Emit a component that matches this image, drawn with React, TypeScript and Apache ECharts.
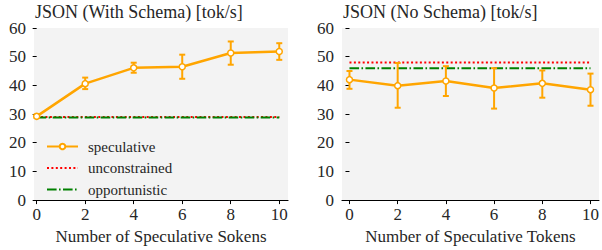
import React, { useEffect, useRef } from "react";
import * as echarts from "echarts";

const xTicks = [0, 2, 4, 6, 8, 10];
const yTicks = [0, 10, 20, 30, 40, 50, 60];

// Left panel: JSON (With Schema)
const leftSpecX = [0, 2, 4, 6, 8, 10];
const leftSpecY = [29.2, 40.6, 46.1, 46.5, 51.3, 51.8];
const leftSpecLo = [28.6, 38.7, 44.4, 42.3, 47.2, 48.9];
const leftSpecHi = [29.8, 42.7, 47.9, 50.7, 55.3, 54.7];
const leftUnconstrained = 29.0;
const leftOpportunistic = 28.8;

// Right panel: JSON (No Schema)
const rightSpecX = [0, 2, 4, 6, 8, 10];
const rightSpecY = [42.0, 39.9, 41.5, 39.1, 40.7, 38.5];
const rightSpecLo = [38.8, 32.2, 36.3, 31.9, 35.7, 32.9];
const rightSpecHi = [45.0, 47.8, 46.7, 46.0, 45.2, 44.1];
const rightUnconstrained = 48.0;
const rightOpportunistic = 46.0;

const titles = ["JSON (With Schema) [tok/s]", "JSON (No Schema) [tok/s]"];
const xNames = ["Number of Speculative Sokens", "Number of Speculative Tokens"];
const legendNames = ["speculative", "unconstrained", "opportunistic"];

const ORANGE = "#FFA500";
const RED = "#FF0000";
const GREEN = "#008000";
const FONT = "Liberation Serif";
const TXT = "#262626";

const css = `#chart-root svg text, #chart-root svg tspan { font-family: "Liberation Serif", "DejaVu Serif", serif !important; }`;

export default function App() {
  const ref = useRef<HTMLDivElement>(null);
  useEffect(() => {
    document.body.style.margin = "0";
    const chart = echarts.init(ref.current!, undefined, { renderer: "svg" });

    const grids = [
      { left: 34, top: 28, width: 254, height: 180 },
      { left: 342, top: 28, width: 259, height: 180 },
    ];
    const xRanges = [
      [-0.11, 10.36],
      [-0.31, 10.35],
    ];

    const errRender = (params: any, api: any) => {
      const x = api.value(0);
      const lo = api.value(1);
      const hi = api.value(2);
      const pLo = api.coord([x, lo]);
      const pHi = api.coord([x, hi]);
      const w = 3;
      const st = { stroke: ORANGE, lineWidth: 2 };
      return {
        type: "group",
        children: [
          { type: "line", shape: { x1: pLo[0], y1: pLo[1], x2: pHi[0], y2: pHi[1] }, style: st },
          { type: "line", shape: { x1: pLo[0] - w, y1: pLo[1], x2: pLo[0] + w, y2: pLo[1] }, style: st },
          { type: "line", shape: { x1: pHi[0] - w, y1: pHi[1], x2: pHi[0] + w, y2: pHi[1] }, style: st },
        ],
      };
    };

    const panels = [
      { x: leftSpecX, y: leftSpecY, lo: leftSpecLo, hi: leftSpecHi, u: leftUnconstrained, o: leftOpportunistic },
      { x: rightSpecX, y: rightSpecY, lo: rightSpecLo, hi: rightSpecHi, u: rightUnconstrained, o: rightOpportunistic },
    ];

    const series: any[] = [];
    panels.forEach((p, i) => {
      series.push({
        name: legendNames[1],
        type: "line",
        xAxisIndex: i,
        yAxisIndex: i,
        data: [[0, p.u], [10, p.u]],
        symbol: "none",
        lineStyle: { color: RED, width: 2, type: [2, 2.4] },
        itemStyle: { color: RED },
        z: 2,
      });
      series.push({
        name: legendNames[2],
        type: "line",
        xAxisIndex: i,
        yAxisIndex: i,
        data: [[0, p.o], [10, p.o]],
        symbol: "none",
        lineStyle: { color: GREEN, width: 2, type: [9.6, 2.4, 1.6, 2.4] },
        itemStyle: { color: GREEN },
        z: 3,
      });
      series.push({
        name: "err" + i,
        type: "custom",
        xAxisIndex: i,
        yAxisIndex: i,
        renderItem: errRender,
        data: p.x.map((xv, k) => [xv, p.lo[k], p.hi[k]]),
        z: 4,
      });
      series.push({
        name: legendNames[0],
        type: "line",
        xAxisIndex: i,
        yAxisIndex: i,
        data: p.x.map((xv, k) => [xv, p.y[k]]),
        symbol: "circle",
        symbolSize: 6,
        lineStyle: { color: ORANGE, width: 2.5 },
        itemStyle: { color: "#ffffff", borderColor: ORANGE, borderWidth: 1.5 },
        z: 5,
      });
    });

    chart.setOption({
      animation: false,
      backgroundColor: "#ffffff",
      title: titles.map((t, i) => ({
        text: t,
        left: grids[i].left + 1,
        top: 3,
        padding: 0,
        textStyle: { fontFamily: FONT, fontSize: 18, fontWeight: "normal", color: TXT },
      })),
      grid: grids.map((g) => ({
        ...g,
        show: true,
        backgroundColor: "#f3f3f3",
        borderWidth: 0,
        containLabel: false,
      })),
      xAxis: grids.map((g, i) => ({
        type: "value",
        gridIndex: i,
        min: xRanges[i][0],
        max: xRanges[i][1],
        name: xNames[i],
        nameLocation: "middle",
        nameGap: 27,
        nameTextStyle: { fontFamily: FONT, fontSize: 17, color: TXT },
        splitLine: { show: false },
        axisLine: { show: true, lineStyle: { color: "#000000", width: 1.2 } },
        axisTick: { show: true, length: 4, customValues: xTicks, lineStyle: { color: "#000000" } },
        axisLabel: {
          customValues: xTicks,
          margin: 6,
          fontFamily: FONT,
          fontSize: 17,
          color: TXT,
        },
      })),
      yAxis: grids.map((g, i) => ({
        type: "value",
        gridIndex: i,
        min: 0,
        max: 60,
        interval: 10,
        splitLine: { show: false },
        axisLine: { show: false },
        axisTick: { show: true, length: 4, lineStyle: { color: "#000000" } },
        axisLabel: {
          margin: 8,
          fontFamily: FONT,
          fontSize: 17,
          color: TXT,
          formatter: (v: number) => (yTicks.includes(v) ? String(v) : ""),
        },
      })),
      legend: {
        data: [
          { name: legendNames[0] },
          { name: legendNames[1], itemStyle: { opacity: 0 } },
          { name: legendNames[2], itemStyle: { opacity: 0 } },
        ],
        orient: "vertical",
        left: 46,
        top: 139,
        itemWidth: 31,
        itemHeight: 7,
        itemGap: 6.5,
        padding: 0,
        backgroundColor: "transparent",
        textStyle: { fontFamily: FONT, fontSize: 15, color: TXT, padding: [0, 0, 0, 5] },
      },
      series,
    });
    return () => chart.dispose();
  }, []);
  return (
    <div id="chart-root">
      <style>{css}</style>
      <div
        ref={ref}
        style={{ position: "fixed", left: 0, top: 0, width: 602, height: 250 }}
      />
    </div>
  );
}
